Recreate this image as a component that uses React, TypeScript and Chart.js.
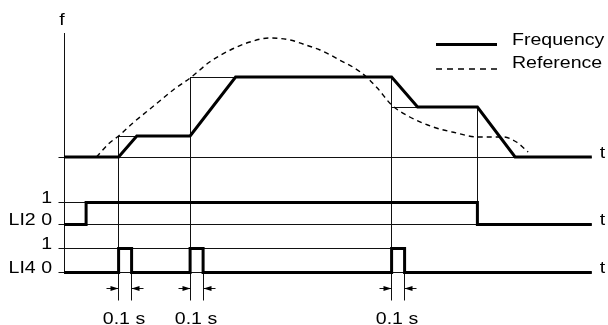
import React, { useEffect, useRef } from "react";
import { Chart, registerables } from "chart.js";

Chart.register(...registerables);

// ---- data (time in s, frequency in Hz-like units) ----
const TIME_END = 4.06;
const freqTimes = [0, 0.42, 0.56, 0.97, 1.32, 2.52, 2.72, 3.18, 3.47, 4.06];
const freqValues = [0, 0, 10.5, 10.5, 40, 40, 25, 25, 0, 0];

const refTimes = [0.25, 0.35, 0.42, 0.53, 0.68, 0.84, 0.98, 1.12, 1.28, 1.43, 1.58, 1.74, 1.86, 1.97, 2.12, 2.28, 2.41, 2.52, 2.66, 2.84, 3.02, 3.18, 3.38, 3.48, 3.57];
const refValues = [0, 7, 10.5, 17, 25, 33.5, 40, 47.5, 53.5, 57.5, 59.5, 58.5, 56, 53.5, 48.5, 42.5, 34.5, 26, 20, 15, 12, 10, 10, 7.5, 2.5];

const li2On = 0.17;
const li2Off = 3.18;
const pulseStarts = [0.42, 0.97, 2.52];
const pulseWidth = 0.1;

// commands: time at which the frequency target changes, and the new target
const commandTimes = [0.42, 0.97, 2.52, 3.18];
const commandLevels = [10.5, 40, 25, 0];
const rampEnds = [0.56, 1.32, 2.72, 3.47];
const F_AXIS_TOP = 62;

const legendLabels = ["Frequency", "Reference"];
const timeLabel = "t";
const freqLabel = "f";
const pulseLabel = "0.1 s";

// ---- layout ----
const W = 608;
const H = 325;
const X_ORIGIN_PX = 64;
const PX_PER_S = 130;
const F_ZERO_PX = 157;
const F_PX_PER_UNIT = 2;
const L2_ZERO_PX = 224.5;
const L2_PX_PER_UNIT = 22;
const L4_ZERO_PX = 272.5;
const L4_PX_PER_UNIT = 24;

function yRange(zeroPx: number, pxPerUnit: number) {
  return { min: -(H - zeroPx) / pxPerUnit, max: zeroPx / pxPerUnit };
}

const FONT = '17px "Liberation Sans", Arial, sans-serif';
const TEXT_SX = 1.15;

function text(ctx: CanvasRenderingContext2D, s: string, x: number, y: number, align: CanvasTextAlign) {
  ctx.save();
  ctx.translate(x, y);
  ctx.scale(TEXT_SX, 1);
  ctx.font = FONT;
  ctx.fillStyle = "#000";
  ctx.textAlign = align;
  ctx.textBaseline = "alphabetic";
  ctx.fillText(s, 0, 0);
  ctx.restore();
}

const r5 = (v: number) => Math.round(v - 0.5) + 0.5;

function line(ctx: CanvasRenderingContext2D, x1: number, y1: number, x2: number, y2: number) {
  ctx.beginPath();
  ctx.moveTo(x1, y1);
  ctx.lineTo(x2, y2);
  ctx.stroke();
}

const diagramPlugin = {
  id: "diagram",
  beforeDatasetsDraw(chart: any) {
    const ctx: CanvasRenderingContext2D = chart.ctx;
    const x = chart.scales.x;
    const yF = chart.scales.yF;
    const y2 = chart.scales.yL2;
    const y4 = chart.scales.yL4;
    const px = (t: number) => r5(x.getPixelForValue(t));
    ctx.save();
    ctx.strokeStyle = "#111";
    ctx.lineWidth = 1;
    const x0 = px(0);
    const xEnd = px(TIME_END);
    // vertical axis
    line(ctx, x0, yF.getPixelForValue(F_AXIS_TOP), x0, r5(y4.getPixelForValue(0)));
    // baselines
    line(ctx, x0 - 6, r5(yF.getPixelForValue(0)), xEnd, r5(yF.getPixelForValue(0)));
    line(ctx, x0 - 6, r5(y2.getPixelForValue(0)), xEnd, r5(y2.getPixelForValue(0)));
    line(ctx, x0 - 6, r5(y4.getPixelForValue(0)), xEnd, r5(y4.getPixelForValue(0)));
    // "1" level lines
    line(ctx, x0 - 6, r5(y2.getPixelForValue(1)), px(li2Off), r5(y2.getPixelForValue(1)));
    line(ctx, x0 - 6, r5(y4.getPixelForValue(1)), px(pulseStarts[pulseStarts.length - 1]), r5(y4.getPixelForValue(1)));
    // guide lines for commands
    const dimBottom = y4.getPixelForValue(0) + 28;
    let prev = 0;
    commandTimes.forEach((t, i) => {
      const lvl = commandLevels[i];
      const top = yF.getPixelForValue(Math.max(prev, lvl));
      const isPulse = pulseStarts.includes(t);
      const bottom = isPulse ? dimBottom : y2.getPixelForValue(1);
      line(ctx, px(t), top, px(t), bottom);
      if (lvl > 0) {
        const yl = r5(yF.getPixelForValue(lvl));
        line(ctx, px(t), yl, px(rampEnds[i]), yl);
      }
      prev = lvl;
    });
    // pulse end extension lines
    pulseStarts.forEach((s) => {
      const xe = px(s + pulseWidth);
      line(ctx, xe, y4.getPixelForValue(1), xe, dimBottom);
    });
    ctx.restore();
  },
  afterDatasetsDraw(chart: any) {
    const ctx: CanvasRenderingContext2D = chart.ctx;
    const x = chart.scales.x;
    const yF = chart.scales.yF;
    const y2 = chart.scales.yL2;
    const y4 = chart.scales.yL4;
    const px = (t: number) => r5(x.getPixelForValue(t));
    ctx.save();
    // dimension arrows
    const ay = r5(y4.getPixelForValue(0) + 16);
    ctx.strokeStyle = "#111";
    ctx.fillStyle = "#000";
    ctx.lineWidth = 1;
    pulseStarts.forEach((s) => {
      const xs = px(s);
      const xe = px(s + pulseWidth);
      line(ctx, xs - 12, ay, xs, ay);
      line(ctx, xe, ay, xe + 12, ay);
      ctx.beginPath();
      ctx.moveTo(xs, ay);
      ctx.lineTo(xs - 8, ay - 2.5);
      ctx.lineTo(xs - 8, ay + 2.5);
      ctx.closePath();
      ctx.fill();
      ctx.beginPath();
      ctx.moveTo(xe, ay);
      ctx.lineTo(xe + 8, ay - 2.5);
      ctx.lineTo(xe + 8, ay + 2.5);
      ctx.closePath();
      ctx.fill();
      text(ctx, pulseLabel, (xs + xe) / 2 - 1, y4.getPixelForValue(0) + 51, "center");
    });
    // axis labels
    const x0 = x.getPixelForValue(0);
    text(ctx, freqLabel, x0 - 2, 25, "center");
    const tx = x.getPixelForValue(TIME_END) + 8;
    text(ctx, timeLabel, tx, yF.getPixelForValue(0) + 0.5, "left");
    text(ctx, timeLabel, tx, y2.getPixelForValue(0) + 0.5, "left");
    text(ctx, timeLabel, tx, y4.getPixelForValue(0) + 0.5, "left");
    text(ctx, "1", x0 - 12, y2.getPixelForValue(1) + 0.5, "right");
    text(ctx, "LI2 0", x0 - 12, y2.getPixelForValue(0) + 0.5, "right");
    text(ctx, "1", x0 - 12, y4.getPixelForValue(1) + 0.5, "right");
    text(ctx, "LI4 0", x0 - 12, y4.getPixelForValue(0) + 0.5, "right");
    // legend
    ctx.strokeStyle = "#000";
    ctx.lineWidth = 3;
    line(ctx, 436, 44.5, 497, 44.5);
    ctx.lineWidth = 1.3;
    ctx.setLineDash([6, 5]);
    line(ctx, 436, 69, 497, 69);
    ctx.setLineDash([]);
    text(ctx, legendLabels[0], 512, 45, "left");
    text(ctx, legendLabels[1], 512, 68, "left");
    ctx.restore();
  },
};

export default function App() {
  const canvasRef = useRef<HTMLCanvasElement>(null);
  useEffect(() => {
    const li4Data: { x: number; y: number }[] = [{ x: 0, y: 0 }];
    pulseStarts.forEach((s) => {
      li4Data.push({ x: s, y: 0 }, { x: s, y: 1 }, { x: s + pulseWidth, y: 1 }, { x: s + pulseWidth, y: 0 });
    });
    li4Data.push({ x: TIME_END, y: 0 });
    const li2Data = [
      { x: 0, y: 0 },
      { x: li2On, y: 0 },
      { x: li2On, y: 1 },
      { x: li2Off, y: 1 },
      { x: li2Off, y: 0 },
      { x: TIME_END, y: 0 },
    ];
    const thick = {
      borderColor: "#000",
      borderWidth: 3,
      pointRadius: 0,
      fill: false,
      tension: 0,
      borderJoinStyle: "miter" as const,
      borderCapStyle: "butt" as const,
    };
    const chart = new Chart(canvasRef.current!, {
      type: "line",
      data: {
        datasets: [
          { ...thick, label: legendLabels[0], data: freqTimes.map((t, i) => ({ x: t, y: freqValues[i] })), yAxisID: "yF" },
          {
            label: legendLabels[1],
            data: refTimes.map((t, i) => ({ x: t, y: refValues[i] })),
            yAxisID: "yF",
            borderColor: "#000",
            borderWidth: 1.4,
            borderDash: [5, 4],
            pointRadius: 0,
            fill: false,
            cubicInterpolationMode: "monotone",
          },
          { ...thick, label: "LI2", data: li2Data, yAxisID: "yL2" },
          { ...thick, label: "LI4", data: li4Data, yAxisID: "yL4" },
        ],
      },
      options: {
        animation: false,
        responsive: true,
        maintainAspectRatio: false,
        layout: { padding: 0 },
        plugins: { legend: { display: false }, tooltip: { enabled: false } },
        scales: {
          x: { type: "linear", display: false, min: -X_ORIGIN_PX / PX_PER_S, max: (W - X_ORIGIN_PX) / PX_PER_S },
          yF: { type: "linear", display: false, ...yRange(F_ZERO_PX, F_PX_PER_UNIT) },
          yL2: { type: "linear", display: false, ...yRange(L2_ZERO_PX, L2_PX_PER_UNIT) },
          yL4: { type: "linear", display: false, ...yRange(L4_ZERO_PX, L4_PX_PER_UNIT) },
        },
      },
      plugins: [diagramPlugin],
    });
    return () => chart.destroy();
  }, []);
  return (
    <div style={{ position: "absolute", left: 0, top: 0, width: W, height: H, background: "#fff" }}>
      <canvas ref={canvasRef} />
    </div>
  );
}
